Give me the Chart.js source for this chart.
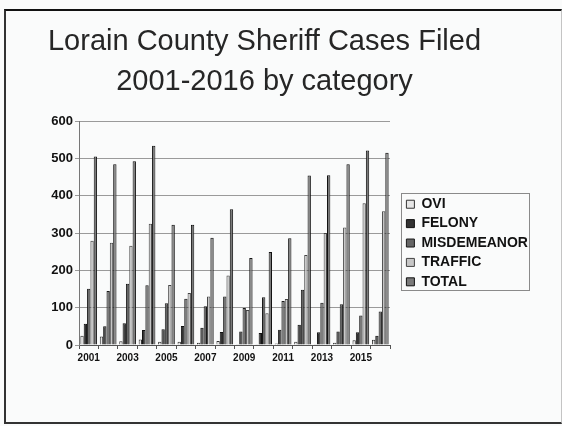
<!DOCTYPE html>
<html>
<head>
<meta charset="utf-8">
<script src="https://cdn.jsdelivr.net/npm/chart.js@4"></script>
<style>
  html, body { margin: 0; padding: 0; background: #fafbfb; }
  body { width: 562px; height: 426px; position: relative; overflow: hidden; }
  #frame { position: absolute; left: 4px; top: 9px; width: 555px; height: 411px;
    border-top: 2px solid #111; border-left: 2px solid #333; border-bottom: 2px solid #333; border-right: 1px solid #c4c4c4; }
  #c { position: absolute; left: 0; top: 0; }
</style>
</head>
<body>
<div id="frame"></div>
<canvas id="c" width="562" height="426"></canvas>
<script>
const years = ['2001','2002','2003','2004','2005','2006','2007','2008','2009','2010','2011','2012','2013','2014','2015','2016'];
const ovi         = [25, 23, 10, 15,  9,  9,  6, 11,  2,  1,  4,  9,  1,  6, 13, 14];
const felony      = [57, 50, 58, 40, 42, 51, 46, 35, 36, 32, 41, 54, 34, 36, 34, 25];
const misdemeanor = [151, 145, 164, 160, 112, 124, 104, 130, 99, 128, 118, 148, 113, 109, 79, 90];
const traffic     = [279, 274, 266, 325, 161, 139, 130, 186, 94, 85, 123, 241, 300, 315, 380, 358];
const total       = [505, 484, 492, 534, 322, 322, 287, 364, 233, 249, 286, 454, 455, 484, 521, 515];
const yTicks      = [0, 100, 200, 300, 400, 500, 600];
const titleLines  = ['Lorain County Sheriff Cases Filed', '2001-2016 by category'];

const legendBorder = {
  id: 'legendBorder',
  afterDraw(chart) {
    const lg = chart.legend;
    if (!lg || !lg.legendHitBoxes || !lg.legendHitBoxes.length) return;
    const hb = lg.legendHitBoxes;
    const top = hb[0].top - 4;
    const last = hb[hb.length - 1];
    const bottom = last.top + last.height + 1;
    const ctx = chart.ctx;
    ctx.save();
    ctx.strokeStyle = '#8a8a8a';
    ctx.lineWidth = 1;
    ctx.strokeRect(Math.round(lg.left) + 0.5, Math.round(top) + 0.5, Math.round(lg.right - lg.left), Math.round(bottom - top));
    ctx.restore();
  }
};

function ds(label, data, bg, border) {
  return { label, data, backgroundColor: bg, borderColor: border, borderWidth: 1, yAxisID: 'y',
           categoryPercentage: 0.86, barPercentage: 1.0 };
}

new Chart(document.getElementById('c'), {
  type: 'bar',
  data: {
    labels: years,
    datasets: [
      ds('OVI', ovi, '#e6e6e6', '#333'),
      ds('FELONY', felony, '#333333', '#111'),
      ds('MISDEMEANOR', misdemeanor, '#666666', '#1a1a1a'),
      ds('TRAFFIC', traffic, '#c6c6c6', '#444'),
      ds('TOTAL', total, '#7a7a7a', '#111')
    ]
  },
  options: {
    responsive: false,
    animation: false,
    devicePixelRatio: 1,
    layout: { padding: { left: 0, right: 33, top: 0, bottom: 59 } },
    plugins: {
      tooltip: { enabled: false },
      title: {
        display: true,
        text: titleLines,
        color: '#262626',
        font: { family: 'Liberation Sans, Arial, sans-serif', size: 29, weight: 'normal', lineHeight: 1.38 },
        padding: { top: 22, bottom: 19 }
      },
      legend: {
        display: true,
        position: 'right',
        fullSize: false,
        maxWidth: 128,
        title: { display: true, text: '', padding: 0, font: { size: 10, lineHeight: 2.0 } },
        labels: {
          color: '#111',
          font: { family: 'Liberation Sans, Arial, sans-serif', size: 14, weight: 'bold' },
          boxWidth: 8,
          boxHeight: 8,
          padding: 5.4
        }
      }
    },
    scales: {
      x: {
        grid: { display: true, offset: true, drawOnChartArea: false, drawTicks: true, tickLength: 4, color: '#555' },
        border: { display: true, color: '#555', width: 1 },
        ticks: {
          autoSkip: false, maxRotation: 0, minRotation: 0, padding: 3,
          color: '#111',
          font: { family: 'Liberation Sans, Arial, sans-serif', size: 10, weight: 'bold' },
          callback: function(v, i) { return i % 2 === 0 ? years[i] : ''; }
        }
      },
      y: {
        position: 'left',
        min: 0, max: 600,
        afterBuildTicks(s) { s.ticks = yTicks.map(v => ({ value: v })); },
        afterFit(s) { s.width = 79; },
        grid: { color: '#9a9a9a', lineWidth: 1, tickLength: 4, drawTicks: true },
        border: { display: true, color: '#777', width: 1 },
        ticks: {
          padding: 2, color: '#111',
          font: { family: 'Liberation Sans, Arial, sans-serif', size: 13, weight: 'bold' }
        }
      },
      y2: {
        position: 'right',
        display: true,
        grid: { display: false },
        border: { display: false },
        ticks: { display: false },
        afterFit(s) { s.width = 11; }
      }
    }
  },
  plugins: [legendBorder]
});
</script>
</body>
</html>
